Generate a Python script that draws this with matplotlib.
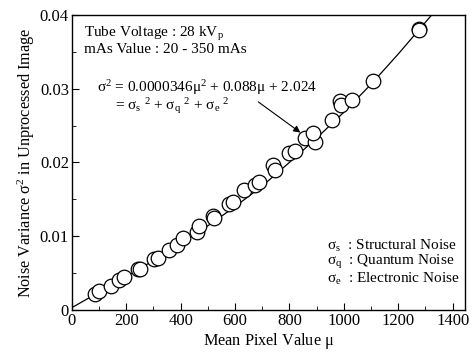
import matplotlib
matplotlib.use("Agg")
import matplotlib.pyplot as plt
from matplotlib.ticker import MultipleLocator, FixedLocator

plt.rcParams['font.family'] = ['Liberation Serif', 'DejaVu Serif']
plt.rcParams['mathtext.fontset'] = 'custom'
plt.rcParams['mathtext.rm'] = 'Liberation Serif'
plt.rcParams['mathtext.it'] = 'Liberation Serif:italic'
plt.rcParams['mathtext.default'] = 'rm'

mean_pixel = [86, 100, 143, 175, 193, 245, 250, 304, 316, 359, 386, 408, 459,
              469, 520, 524, 579, 594, 634, 674, 690, 741, 747, 800, 821, 857,
              894, 888, 955, 986, 988, 1029, 1106, 1276, 1278]
noise_var = [0.00217, 0.0025, 0.0033, 0.0041, 0.0044, 0.0055, 0.0056, 0.0069,
             0.0071, 0.0081, 0.0088, 0.0097, 0.0106, 0.0114, 0.0127, 0.0125,
             0.0144, 0.0147, 0.0163, 0.0170, 0.0173, 0.0196, 0.0190, 0.0213,
             0.0215, 0.0233, 0.0228, 0.0240, 0.0258, 0.0283, 0.0278, 0.0285,
             0.0311, 0.0381, 0.0379]

# Fitted curve
fit_x = [0, 100, 200, 300, 400, 500, 600, 700, 800, 900, 1000, 1100, 1200, 1323]
fit_y = [0.0003, 0.0024, 0.0045, 0.0067, 0.0090, 0.0114, 0.0140, 0.0168,
         0.0200, 0.0233, 0.0268, 0.0306, 0.0347, 0.0400]

x_ticks = [0, 200, 400, 600, 800, 1000, 1200, 1400]
y_ticks = [0, 0.01, 0.02, 0.03, 0.04]
y_tick_labels = ['0', '0.01', '0.02', '0.03', '0.04']

fig = plt.figure(figsize=(4.72, 3.55), dpi=100)
ax = fig.add_axes([0.152, 0.127, 0.833, 0.831])

ax.plot(fit_x, fit_y, color='black', linewidth=0.9, zorder=2)
ax.plot(mean_pixel, noise_var, linestyle='none', marker='o', markersize=10.5,
        markerfacecolor='white', markeredgecolor='black', markeredgewidth=0.9,
        zorder=3)

ax.set_xlim(0, 1445)
ax.set_ylim(0, 0.04)
ax.xaxis.set_major_locator(FixedLocator(x_ticks))
ax.xaxis.set_minor_locator(MultipleLocator(100))
ax.yaxis.set_major_locator(FixedLocator(y_ticks))
ax.yaxis.set_minor_locator(MultipleLocator(0.005))
ax.set_yticklabels(y_tick_labels)
ax.tick_params(which='both', direction='in', top=False, right=False,
               labelsize=12, pad=2)
ax.tick_params(which='major', length=5)
ax.tick_params(which='minor', length=3)
for sp in ax.spines.values():
    sp.set_linewidth(1.0)

ax.set_xlabel(r'Mean Pixel Value $\mu$', fontsize=11.7, labelpad=2)
ax.set_ylabel(r'Noise Variance $\sigma^2$ in Unprocessed Image', fontsize=11.7,
              labelpad=2)

# text blocks
ax.text(0.03, 0.965, r'Tube Voltage : 28 kV$_p$' + '\n' + 'mAs Value : 20 - 350 mAs',
        transform=ax.transAxes, fontsize=11, va='top', ha='left', linespacing=0.95)

ax.annotate(r'$\sigma^2$ = 0.0000346$\mu^2$ + 0.088$\mu$ + 2.024',
            xy=(857, 0.0236), xytext=(93, 0.0302), fontsize=11,
            va='center', ha='left',
            arrowprops=dict(arrowstyle='-|>', color='black', lw=0.8,
                            shrinkA=3, shrinkB=4, mutation_scale=10,
                            relpos=(0.7, 0.0)))
ax.text(160, 0.0277, r'= $\sigma_s\ {}^2$ + $\sigma_q\ {}^2$ + $\sigma_e\ {}^2$',
        fontsize=11, va='center', ha='left')

ax.text(0.648, 0.245,
        r'$\sigma_s$  : Structural Noise' + '\n' +
        r'$\sigma_q$  : Quantum Noise' + '\n' +
        r'$\sigma_e$  : Electronic Noise',
        transform=ax.transAxes, fontsize=11, va='top', ha='left',
        linespacing=0.95)

fig.savefig('out.png', dpi=100)
